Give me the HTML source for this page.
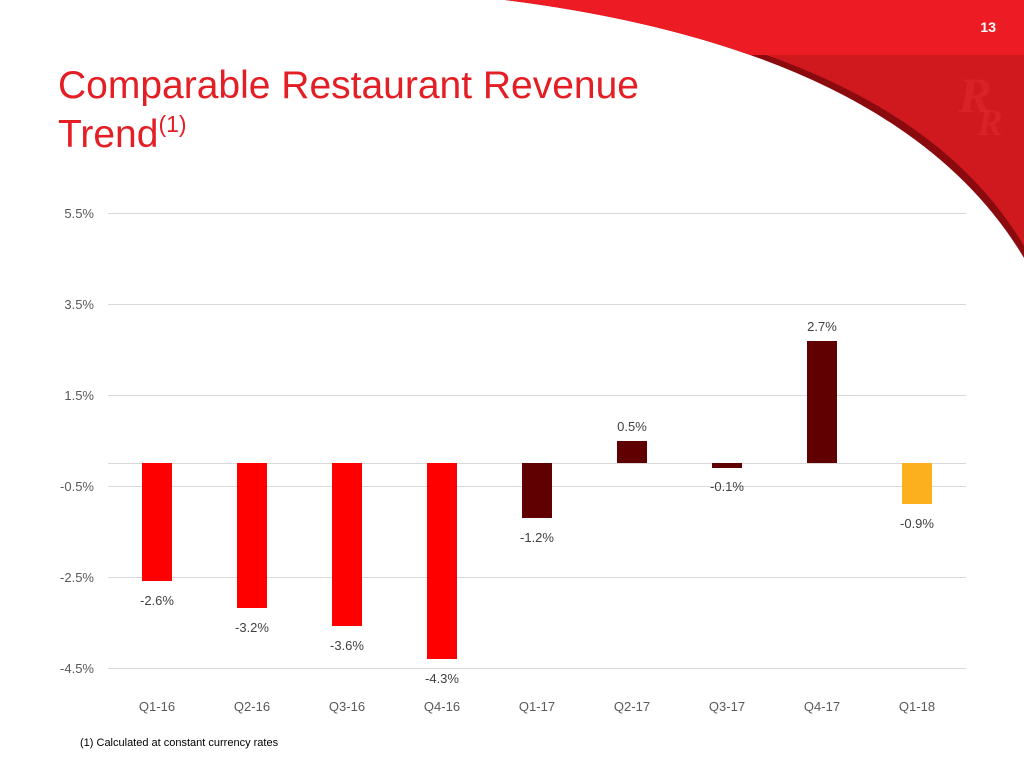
<!DOCTYPE html>
<html><head><meta charset="utf-8"><style>
body{margin:0;width:1024px;height:768px;overflow:hidden;background:#fff;font-family:"Liberation Sans",sans-serif;}
</style></head><body>
<svg width="1024" height="768" xmlns="http://www.w3.org/2000/svg" style="position:absolute;left:0;top:0">
<defs>
<clipPath id="sw"><path d="M505,0 Q900,50 1024,258 L1024,0 Z"/></clipPath>
</defs>
<path d="M505,0 Q900,50 1024,258 L1024,0 Z" fill="#8a0a0e"/>
<g clip-path="url(#sw)">
<path d="M512,0 Q905,45 1024,246 L1024,0 Z" fill="#d0181f"/>
<rect x="500" y="0" width="524" height="55" fill="#ed1c24"/>
</g>
<text x="996" y="32" font-size="14" font-weight="bold" fill="#fff" text-anchor="end" font-family="Liberation Sans">13</text>
<text x="975" y="112" font-size="50" font-style="italic" font-weight="bold" fill="#e0282e" text-anchor="middle" font-family="Liberation Serif" opacity="0.6">R</text>
<text x="990" y="135" font-size="38" font-style="italic" font-weight="bold" fill="#e0282e" text-anchor="middle" font-family="Liberation Serif" opacity="0.6">R</text>
<text x="58" y="98" font-size="39" fill="#e31e24" font-family="Liberation Sans">Comparable Restaurant Revenue</text>
<text x="58" y="147" font-size="39" fill="#e31e24" font-family="Liberation Sans">Trend<tspan font-size="23" dy="-15">(1)</tspan></text>
<g stroke="#d9d9d9" stroke-width="1">
<line x1="108" x2="966" y1="213.5" y2="213.5"/><line x1="108" x2="966" y1="304.5" y2="304.5"/>
<line x1="108" x2="966" y1="395.5" y2="395.5"/><line x1="108" x2="966" y1="463.5" y2="463.5"/>
<line x1="108" x2="966" y1="486.5" y2="486.5"/><line x1="108" x2="966" y1="577.5" y2="577.5"/>
<line x1="108" x2="966" y1="668.5" y2="668.5"/>
</g>
<g font-family="Liberation Sans" font-size="13" fill="#595959" text-anchor="end">
<text x="94" y="218">5.5%</text><text x="94" y="309">3.5%</text><text x="94" y="400">1.5%</text>
<text x="94" y="491">-0.5%</text><text x="94" y="582">-2.5%</text><text x="94" y="673">-4.5%</text>
</g>
<g>
<rect x="142" y="463" width="30" height="118" fill="#ff0000"/>
<rect x="237" y="463" width="30" height="145" fill="#ff0000"/>
<rect x="332" y="463" width="30" height="163" fill="#ff0000"/>
<rect x="427" y="463" width="30" height="196" fill="#ff0000"/>
<rect x="522" y="463" width="30" height="55" fill="#600000"/>
<rect x="617" y="441" width="30" height="22" fill="#600000"/>
<rect x="712" y="463" width="30" height="5" fill="#600000"/>
<rect x="807" y="341" width="30" height="122" fill="#600000"/>
<rect x="902" y="463" width="30" height="41" fill="#fdb01e"/>
</g>
<g font-family="Liberation Sans" font-size="13" fill="#404040" text-anchor="middle">
<text x="157" y="605">-2.6%</text><text x="252" y="632">-3.2%</text><text x="347" y="650">-3.6%</text>
<text x="442" y="683">-4.3%</text><text x="537" y="542">-1.2%</text><text x="632" y="431">0.5%</text>
<text x="727" y="491">-0.1%</text><text x="822" y="331">2.7%</text><text x="917" y="528">-0.9%</text>
</g>
<g font-family="Liberation Sans" font-size="13" fill="#595959" text-anchor="middle">
<text x="157" y="711">Q1-16</text><text x="252" y="711">Q2-16</text><text x="347" y="711">Q3-16</text>
<text x="442" y="711">Q4-16</text><text x="537" y="711">Q1-17</text><text x="632" y="711">Q2-17</text>
<text x="727" y="711">Q3-17</text><text x="822" y="711">Q4-17</text><text x="917" y="711">Q1-18</text>
</g>
<text x="80" y="746" font-family="Liberation Sans" font-size="11" fill="#000">(1) Calculated at constant currency rates</text>
</svg>
</body></html>
